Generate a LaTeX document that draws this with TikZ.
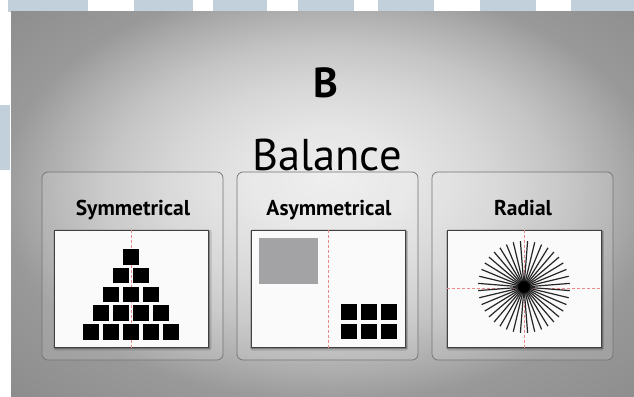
\documentclass[tikz,border=0pt]{standalone}
\usepackage{fontspec}
\setsansfont{PT Sans}
\usetikzlibrary{positioning,shadows.blur}
\definecolor{stripblue}{HTML}{C2D0DC}
\definecolor{guidered}{HTML}{E88A8A}
\definecolor{blockgray}{HTML}{A3A3A5}
\pgfdeclareradialshading{wallshade}{\pgfpoint{0bp}{3bp}}{color(0bp)=(black!7); color(6bp)=(black!10); color(12bp)=(black!16); color(17bp)=(black!23); color(21.5bp)=(black!32); color(25bp)=(black!40); color(36bp)=(black!46)}
\tikzset{
  panelbox/.style={draw=black!55, line width=0.7pt, rounded corners=6pt, fill=white, fill opacity=0.12, minimum width=181pt, minimum height=188pt},
  framebox/.style={draw=black!75, line width=1pt, fill=black!2, minimum width=154pt, minimum height=117pt, blur shadow={shadow xshift=1pt, shadow yshift=-1.5pt, shadow blur steps=6, shadow opacity=60}},
  paneltitle/.style={font=\sffamily\bfseries\fontsize{21.5}{21.5}\selectfont, anchor=base, inner sep=0pt},
  guideline/.style={draw=guidered, line width=0.6pt, dash pattern=on 3pt off 2pt},
  spoke/.style={draw=black!85, line width=1.2pt}
}
\begin{document}
\begin{tikzpicture}[x=1pt, y=-1pt]
\useasboundingbox (0,0) rectangle (634,396);
% strip at the top and left edge
\fill[white] (0,0) rectangle (634,396);
\foreach \xa/\xb in {8/88, 134/193, 213/267, 298/354, 378/434, 480/536, 571/634}
  \fill[stripblue] (\xa,0) rectangle (\xb,12);
\fill[stripblue] (0,105) rectangle (10,170);
% wall
\begin{scope}
  \clip (11,12) rectangle (634,396);
  \shade[shading=wallshade] (0,-10) rectangle (660,410);
\end{scope}
% headings
\node[font=\sffamily\bfseries\fontsize{42}{42}\selectfont, anchor=base, inner sep=0pt] (letter) at (326,97) {B};
\node[font=\sffamily\fontsize{44.5}{44.5}\selectfont, anchor=base, inner sep=0pt] (topic) at (327,170) {Balance};
% panels
\node[panelbox] (symPanel) at (132.5,266) {};
\node[panelbox] (asymPanel) at (327.5,266) {};
\node[panelbox] (radPanel) at (522.5,266) {};
\node[paneltitle] (symTitle) at (133,215) {Symmetrical};
\node[paneltitle] (asymTitle) at (329,215) {Asymmetrical};
\node[paneltitle] (radTitle) at (523,215) {Radial};
\node[framebox] (symFrame) at (131.5,288.5) {};
\node[framebox] (asymFrame) at (328,288.5) {};
\node[framebox] (radFrame) at (524,288.5) {};
% symmetrical
\draw[guideline] (symFrame.north) -- (symFrame.south);
\foreach \r in {1,...,5}
  \foreach \i in {1,...,\r}
    \fill[black] ({131+(\i-(\r+1)/2)*20-8}, {249+(\r-1)*18.75}) rectangle +(16,15.5);
% asymmetrical
\draw[guideline] (asymFrame.north) -- (asymFrame.south);
\fill[blockgray] (259,238) rectangle (318,284);
\foreach \c in {0,1,2}
  \foreach \r in {0,1}
    \fill[black] ({341+\c*20}, {304+\r*19.5}) rectangle +(16,15.5);
% radial
\draw[guideline] (radFrame.north) -- (radFrame.south);
\draw[guideline] (radFrame.west) -- (radFrame.east);
\begin{scope}[shift={(524,287)}]
  \foreach \a in {4.5,13.5,...,175.5}
    \draw[spoke] (\a:46) -- (\a+180:46);
  \fill[black] (0,0) circle (6);
\end{scope}
\end{tikzpicture}
\end{document}
